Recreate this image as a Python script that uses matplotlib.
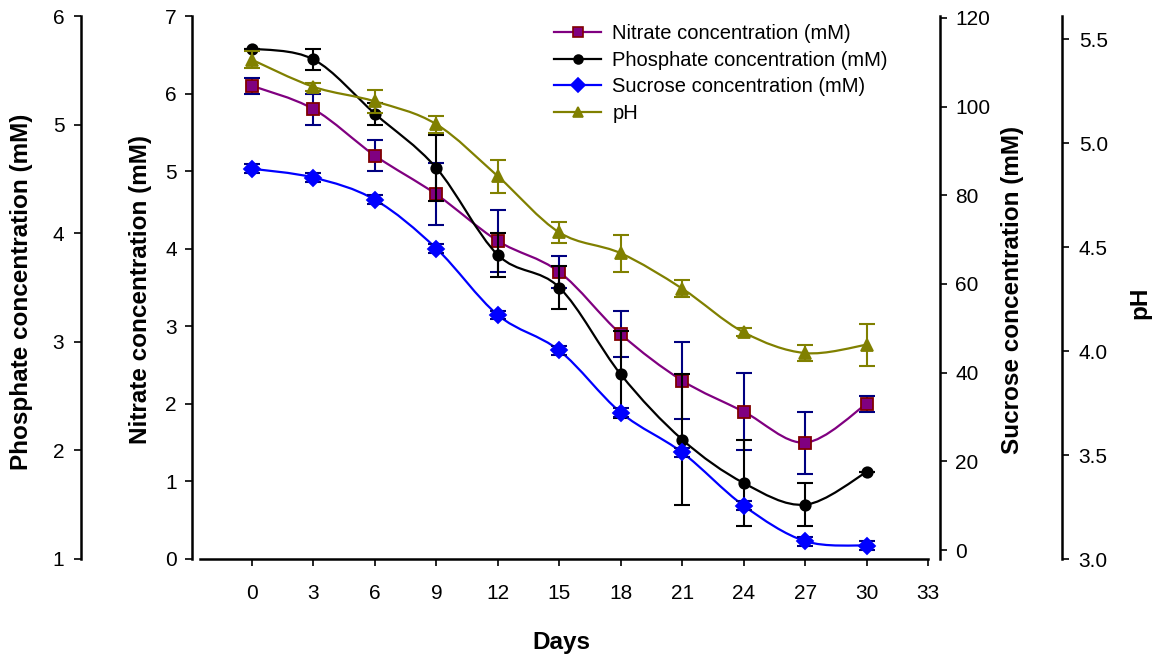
import matplotlib
matplotlib.use("Agg")
import matplotlib.pyplot as plt
from matplotlib.path import Path
from matplotlib.patches import PathPatch
from matplotlib.lines import Line2D

plt.rcParams["font.family"] = ["Liberation Sans", "DejaVu Sans"]

days = [0, 3, 6, 9, 12, 15, 18, 21, 24, 27, 30]
nitrate = [6.1, 5.8, 5.2, 4.7, 4.1, 3.7, 2.9, 2.3, 1.9, 1.5, 2.0]
nitrate_err = [0.1, 0.2, 0.2, 0.4, 0.4, 0.2, 0.3, 0.5, 0.5, 0.4, 0.1]
phosphate = [5.7, 5.6, 5.1, 4.6, 3.8, 3.5, 2.7, 2.1, 1.7, 1.5, 1.8]
phosphate_err = [0, 0.1, 0.1, 0.3, 0.2, 0.2, 0.4, 0.6, 0.4, 0.2, 0]
sucrose = [86, 84, 79, 68, 53, 45, 31, 22, 10, 2, 1]
sucrose_err = [1, 1, 1, 1, 1, 1, 1, 1, 1, 1, 1]
ph = [5.40, 5.27, 5.20, 5.09, 4.84, 4.57, 4.47, 4.30, 4.09, 3.99, 4.03]
ph_err = [0.04, 0.02, 0.055, 0.04, 0.08, 0.05, 0.09, 0.04, 0.02, 0.04, 0.1]

x_ticks = list(range(0, 34, 3))


def smooth_path(x, y):
    # excel-like smoothed line: catmull-rom as cubic bezier segments
    n = len(x)
    verts = [(x[0], y[0])]
    codes = [Path.MOVETO]
    for i in range(n - 1):
        i0 = max(i - 1, 0)
        i3 = min(i + 2, n - 1)
        c1 = (x[i] + (x[i + 1] - x[i0]) / 6, y[i] + (y[i + 1] - y[i0]) / 6)
        c2 = (x[i + 1] - (x[i3] - x[i]) / 6, y[i + 1] - (y[i3] - y[i]) / 6)
        verts += [c1, c2, (x[i + 1], y[i + 1])]
        codes += [Path.CURVE4] * 3
    return Path(verts, codes)


W, H = 1163, 659
fig = plt.figure(figsize=(W / 100, H / 100), dpi=100)
L, R, T, B = 200, 928, 16, 559
ax = fig.add_axes([L / W, 1 - B / H, (R - L) / W, (B - T) / H])
aw = R - L

axp = ax.twinx()
axs = ax.twinx()
aph = ax.twinx()

spine_lw = 1.8
tick_fs = 15

# nitrate (host axis)
ax.set_xlim(-2.54, 33)
ax.set_ylim(0, 7)
ax.set_xticks(x_ticks)
ax.spines["top"].set_visible(False)
ax.spines["right"].set_visible(False)
ax.spines["left"].set_position(("axes", -8 / aw))
for s in ["left", "bottom"]:
    ax.spines[s].set_linewidth(spine_lw)
ax.tick_params(axis="x", direction="out", length=5, width=1.2, pad=13, labelsize=tick_fs)
ax.tick_params(axis="y", direction="out", length=5, width=1.2, pad=6, labelsize=tick_fs)

# phosphate
axp.set_ylim(1, 6)
axp.yaxis.set_ticks_position("left")
axp.yaxis.set_label_position("left")
for s in ["top", "bottom", "right"]:
    axp.spines[s].set_visible(False)
axp.spines["left"].set_visible(True)
axp.spines["left"].set_position(("axes", (81 - L) / aw))
axp.spines["left"].set_linewidth(spine_lw)
axp.tick_params(axis="y", direction="out", length=5, width=1.2, pad=7, labelsize=tick_fs)

# sucrose
axs.set_ylim(-2.03, 120.45)
axs.set_yticks(range(0, 121, 20))
for s in ["top", "bottom", "left"]:
    axs.spines[s].set_visible(False)
axs.spines["right"].set_position(("axes", (940 - L) / aw))
axs.spines["right"].set_linewidth(spine_lw)
axs.tick_params(axis="y", direction="out", length=5, width=1.2, pad=6, labelsize=tick_fs)

# pH
aph.set_ylim(3.0, 3.0 + (B - T) / 208)
aph.set_yticks([3.0, 3.5, 4.0, 4.5, 5.0, 5.5])
aph.set_yticklabels(["3.0", "3.5", "4.0", "4.5", "5.0", "5.5"])
for s in ["top", "bottom", "left"]:
    aph.spines[s].set_visible(False)
aph.spines["right"].set_position(("axes", (1062 - L) / aw))
aph.spines["right"].set_linewidth(spine_lw)
aph.tick_params(axis="y", direction="out", length=5, width=1.2, pad=7, labelsize=tick_fs)

series = [
    (ax, nitrate, nitrate_err, "#800080", "s", 9, "#800080", "#800000", "#000080", "Nitrate concentration (mM)"),
    (axp, phosphate, phosphate_err, "black", "o", 7.5, "black", "black", "black", "Phosphate concentration (mM)"),
    (axs, sucrose, sucrose_err, "#0000FF", "D", 8.5, "#0000FF", "#0000FF", "#000080", "Sucrose concentration (mM)"),
    (aph, ph, ph_err, "#808000", "^", 9, "#808000", "#808000", "#808000", "pH"),
]

handles = []
for a, vals, err, col, mk, ms, mfc, mec, ecol, lab in series:
    a.add_patch(PathPatch(smooth_path(days, vals), facecolor="none", edgecolor=col, lw=1.6, zorder=2))
    a.errorbar(days, vals, yerr=err, fmt="none", ecolor=ecol, elinewidth=1.5,
               capsize=5.5, capthick=1.5, zorder=3)
    a.plot(days, vals, ls="none", marker=mk, ms=ms, mfc=mfc, mec=mec, mew=1.3, zorder=4)
    handles.append(Line2D([], [], color=col, lw=1.6, marker=mk, ms=ms * 0.85,
                          mfc=mfc, mec=mec, mew=1.2))

fig.legend(handles, [s[-1] for s in series], loc="upper left",
           bbox_to_anchor=(544 / W, 1 - 14 / H), frameon=False, fontsize=14.5,
           handlelength=2.35, handletextpad=0.55, labelspacing=0.38, borderpad=0)

lab_kw = dict(fontsize=17.5, fontweight="bold", rotation=90, ha="center", va="center")
fig.text(22 / W, 1 - 292 / H, "Phosphate concentration (mM)", **lab_kw)
fig.text(140 / W, 1 - 290 / H, "Nitrate concentration (mM)", **lab_kw)
fig.text(1013 / W, 1 - 290 / H, "Sucrose concentration (mM)", **lab_kw)
fig.text(1140 / W, 1 - 303 / H, "pH", **lab_kw)
fig.text(561 / W, 1 - 643 / H, "Days", fontsize=17.5, fontweight="bold", ha="center", va="center")

fig.savefig("out.png", dpi=100)
